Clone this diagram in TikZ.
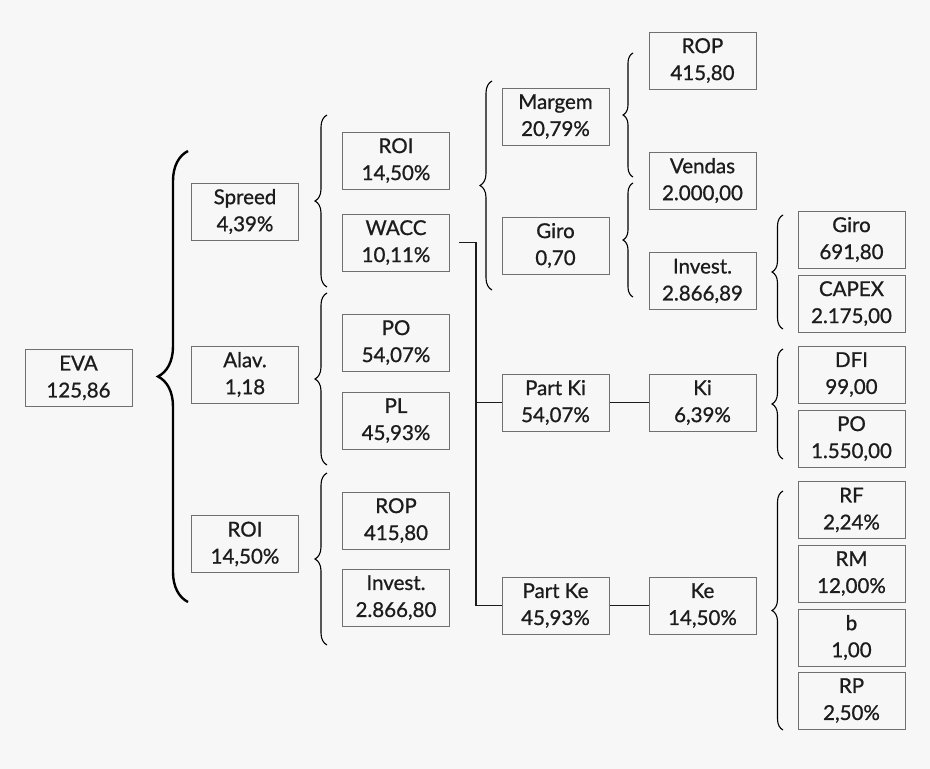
\documentclass[tikz,border=0pt]{standalone}
\usepackage{fontspec}
\setmainfont{Lato}
\newfontfamily\boxfont{Lato}[FakeBold=0.9]
\usetikzlibrary{decorations.pathreplacing}
\definecolor{bggray}{HTML}{F7F7F7}
\definecolor{boxgray}{HTML}{707070}
\definecolor{inkgray}{HTML}{1C1C1C}
\tikzset{
  box/.style={draw=boxgray, line width=1pt, minimum width=107pt, minimum height=57pt,
    inner sep=0pt, align=center, text=inkgray, font=\boxfont\fontsize{20.5}{27}\selectfont},
  curly/.style={decorate, decoration={brace, amplitude=#1}, line width=1.1pt, black},
  link/.style={draw=inkgray, line width=1.3pt},
}
\begin{document}
\begin{tikzpicture}[x=1pt, y=-1pt]
      \fill[bggray] (0,0) rectangle (930,769);
      % level 1 and 2
      \node[box] (eva) at (78.5,378) {EVA\\125,86};
      \node[box] (spread) at (245,211.5) {Spreed\\4,39\%};
      \node[box] (alav) at (245,374.5) {Alav.\\1,18};
      \node[box] (roi) at (245,544) {ROI\\14,50\%};
      % level 3
      \node[box] (roiA) at (396,160.5) {ROI\\14,50\%};
      \node[box] (wacc) at (396,242.5) {WACC\\10,11\%};
      \node[box] (po) at (396,342.5) {PO\\54,07\%};
      \node[box] (pl) at (396,420.5) {PL\\45,93\%};
      \node[box] (rop) at (396,520.5) {ROP\\415,80};
      \node[box] (invest) at (396,597.5) {Invest.\\2.866,80};
      % level 4
      \node[box] (margem) at (555.5,116.5) {Margem\\20,79\%};
      \node[box] (giro) at (555.5,245.5) {Giro\\0,70};
      \node[box] (partki) at (555.5,402.5) {Part Ki\\54,07\%};
      \node[box] (partke) at (555.5,605.5) {Part Ke\\45,93\%};
      % level 5
      \node[box] (ropB) at (702.5,60.5) {ROP\\415,80};
      \node[box] (vendas) at (702.5,180.5) {Vendas\\2.000,00};
      \node[box] (investB) at (702.5,281) {Invest.\\2.866,89};
      \node[box] (ki) at (702.5,402.5) {Ki\\6,39\%};
      \node[box] (ke) at (702.5,605.5) {Ke\\14,50\%};
      % level 6
      \node[box] (giroB) at (851.5,239.5) {Giro\\691,80};
      \node[box] (capex) at (851.5,303.5) {CAPEX\\2.175,00};
      \node[box] (dfi) at (851.5,374.5) {DFI\\99,00};
      \node[box] (poB) at (851.5,438.5) {PO\\1.550,00};
      \node[box] (rf) at (851.5,510) {RF\\2,24\%};
      \node[box] (rm) at (851.5,573.5) {RM\\12,00\%};
      \node[box] (beta) at (851.5,637.5) {b\\1,00};
      \node[box] (rp) at (851.5,700.5) {RP\\2,50\%};
      % braces
      \draw[curly=30, line width=2.4pt] (188,602) -- (188,151);
      \draw[curly=12] (327,287) -- (327,115);
      \draw[curly=12] (327,465) -- (327,293);
      \draw[curly=12] (327,645) -- (327,473);
      \draw[curly=12] (492,290) -- (492,81);
      \draw[curly=10] (633,177) -- (633,53);
      \draw[curly=10] (633,297) -- (633,183);
      \draw[curly=11] (783,329) -- (783,215);
      \draw[curly=11] (783,459) -- (783,349);
      \draw[curly=11] (783,730) -- (783,491);
      % connectors
      \coordinate (trunk) at (476,242.5);
      \begin{scope}[link]
        \draw ([xshift=9pt]wacc.east) -- (trunk) |- (partke.west);
        \draw (trunk |- partki.west) -- (partki.west);
        \draw (partki) -- (ki);
        \draw (partke) -- (ke);
      \end{scope}
    \end{tikzpicture}
\end{document}
